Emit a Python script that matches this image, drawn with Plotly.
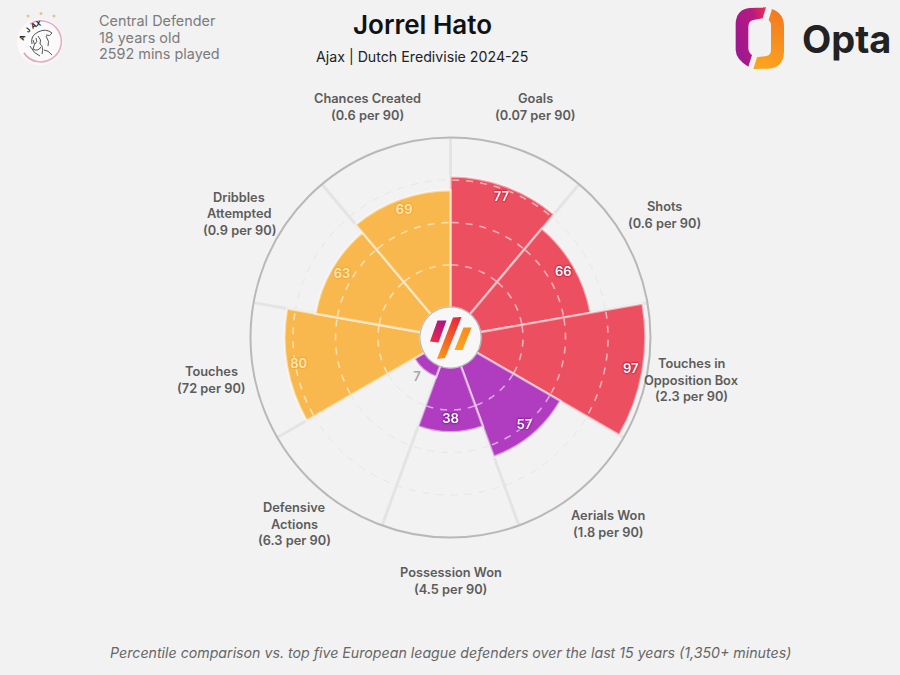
import base64
import numpy as np
import plotly.graph_objects as go

# ---- data ----
metrics = ["Goals", "Shots", "Touches in Opposition Box", "Aerials Won", "Possession Won",
           "Defensive Actions", "Touches", "Dribbles Attempted", "Chances Created"]
percentiles = [77, 66, 97, 57, 38, 7, 80, 63, 69]
per_90 = ["0.07", "0.6", "2.3", "1.8", "4.5", "6.3", "72", "0.9", "0.6"]
groups = ["attack", "attack", "attack", "poss", "poss", "poss", "ball", "ball", "ball"]
rings = [25, 50, 75]

# ---- style ----
W, H = 900, 675
BG = "#f2f2f2"
FONT = "Inter"
GROUP_COL = {"attack": "#ec5060", "poss": "#b03cc0", "ball": "#f8b84e"}
TEXT_COL = {"attack": "#ffffff", "poss": "#ffffff", "ball": "#ffe9b8"}
SHADOW_COL = {"attack": "#b0002a", "poss": "#6a008a", "ball": "#f09a20"}
CX, CY, R = 450.5, 337.5, 200
WIDTH = 360 / len(metrics)
thetas = [WIDTH * (i + 0.5) for i in range(len(metrics))]

# label block centres in px and line-break layout
label_lines = {
    "Touches in Opposition Box": ["Touches in", "Opposition Box"],
    "Dribbles Attempted": ["Dribbles", "Attempted"],
    "Defensive Actions": ["Defensive", "Actions"],
}
label_pos = [(535, 107), (664, 215), (691, 380), (608, 524), (451, 581),
             (294, 524), (211, 380), (239, 214), (367, 107)]
LINE_GAP = 16.5


def px(x):
    return x / W


def py(y):
    return 1 - y / H


def svg_uri(body, vb):
    s = f'<svg xmlns="http://www.w3.org/2000/svg" viewBox="0 0 {vb[0]} {vb[1]}">{body}</svg>'
    return "data:image/svg+xml;base64," + base64.b64encode(s.encode()).decode()


fig = go.Figure()

fig.add_trace(go.Barpolar(
    r=percentiles, theta=thetas, width=[WIDTH] * len(metrics),
    marker=dict(color=[GROUP_COL[g] for g in groups],
                line=dict(color="rgba(255,255,255,0.5)", width=2.4)),
    hoverinfo="skip", showlegend=False,
))

# dashed rings that show over the bars
for ring in rings:
    tt, rr = [], []
    for th, v in zip(thetas, percentiles):
        if v >= ring:
            seg = np.linspace(th - WIDTH / 2 + 0.6, th + WIDTH / 2 - 0.6, 24)
            tt += list(seg) + [None]
            rr += [ring] * 24 + [None]
    fig.add_trace(go.Scatterpolar(
        r=rr, theta=tt, mode="lines", connectgaps=False,
        line=dict(color="rgba(255,255,255,0.55)", width=1.6, dash="7px,7px"),
        hoverinfo="skip", showlegend=False,
    ))

# percentile values
for th, v, g in zip(thetas, percentiles, groups):
    small = v < 10
    fig.add_trace(go.Scatterpolar(
        r=[v + 6 if small else v - 7], theta=[th], mode="text", text=[str(v)],
        textposition="middle center",
        textfont=dict(family=FONT, size=13, weight=600,
                      color="#a8a8a8" if small else TEXT_COL[g],
                      shadow="none" if small else f"0 0 2px {SHADOW_COL[g]}, 0 0 2px {SHADOW_COL[g]}"),
        hoverinfo="skip", showlegend=False,
    ))

ann = []


def text(x, y, s, size, color, **kw):
    font = dict(family=kw.pop("family", FONT), size=size, color=color)
    for k in ("weight", "style"):
        if k in kw:
            font[k] = kw.pop(k)
    ann.append(dict(x=px(x), y=py(y), xref="paper", yref="paper", text=s, showarrow=False,
                    font=font, xanchor=kw.pop("xanchor", "center"), yanchor="middle", **kw))


for m, p, (x, y) in zip(metrics, per_90, label_pos):
    lines = label_lines.get(m, [m]) + [f"({p} per 90)"]
    top = y - LINE_GAP * (len(lines) - 1) / 2
    for i, ln in enumerate(lines):
        text(x, top + i * LINE_GAP, ln, 12.8, "#5c5c5c", weight=600)

text(422, 24, "Jorrel Hato", 26, "#111111", weight=600)
text(422, 57, "Ajax | Dutch Eredivisie 2024-25", 14.2, "#222222")
text(97, 20, "Central Defender", 14.4, "#7c7c7c", xanchor="left")
text(97, 37, "18 years old", 14.4, "#7c7c7c", xanchor="left")
text(97, 54, "2592 mins played", 14.4, "#7c7c7c", xanchor="left")
text(451, 653, "Percentile comparison vs. top five European league defenders over the last 15 years (1,350+ minutes)",
     14.2, "#666666", style="italic")
text(846, 39, "Opta", 38, "#222222", weight=700)
for (lx, ly, ch, rot) in [(22.5, 38, "A", -68), (27.5, 30.5, "J", -48), (33.5, 25.5, "A", -28), (38.5, 23.5, "X", -8)]:
    text(lx, ly, ch, 7, "#222222", weight=700, textangle=rot)

centre_svg = svg_uri(
    '<defs>'
    '<linearGradient id="a" x1="0.8" y1="0" x2="0.2" y2="1"><stop offset="0" stop-color="#a8148c"/><stop offset="1" stop-color="#ee2a44"/></linearGradient>'
    '<linearGradient id="b" x1="0.8" y1="0" x2="0.2" y2="1"><stop offset="0" stop-color="#e8283c"/><stop offset="1" stop-color="#fb9216"/></linearGradient>'
    '<linearGradient id="c" x1="0.8" y1="0" x2="0.2" y2="1"><stop offset="0" stop-color="#fb8a1a"/><stop offset="1" stop-color="#fba520"/></linearGradient>'
    '</defs>'
    '<circle cx="50.5" cy="37.5" r="30" fill="#f7f7f7"/>'
    '<polygon points="37.5,20.5 46.5,20.5 38.5,42.5 30,41.5" fill="url(#a)"/>'
    '<polygon points="53,17.5 61.5,17 45,58 37,59" fill="url(#b)"/>'
    '<polygon points="63.5,27.5 71.5,27.5 62.5,50 54.5,50" fill="url(#c)"/>',
    (100, 100))

opta_svg = svg_uri(
    '<defs>'
    '<linearGradient id="p" x1="0" y1="0.5" x2="1" y2="0"><stop offset="0" stop-color="#a0188e"/><stop offset="0.6" stop-color="#b81a80"/><stop offset="1" stop-color="#ee3048"/></linearGradient>'
    '<linearGradient id="o" x1="0.5" y1="0" x2="0.3" y2="1"><stop offset="0" stop-color="#f47a20"/><stop offset="1" stop-color="#fba51e"/></linearGradient>'
    '</defs>'
    '<path d="M198,22 L150,24 Q108,28 107,72 L107,150 Q108,178 145,200 L156,165 Q145,158 145,145 L145,80 Q146,62 160,60 L188,55 Z" fill="url(#p)"/>'
    '<path d="M216,27 Q252,40 252,80 L252,155 Q250,204 205,206 L160,207 L171,172 L200,168 Q213,165 213,150 L213,78 Q213,66 206,60 Z" fill="url(#o)"/>',
    (300, 240))

ajax_svg = svg_uri(
    '<circle cx="40" cy="42" r="23" fill="#fafafa"/>'
    '<path d="M24,53 A20.5,20.5 0 1 0 30,24" fill="none" stroke="#e6a8c0" stroke-width="1.5"/>'
    '<path d="M24,53 A20.5,20.5 0 0 0 36,61.5" fill="none" stroke="#e6a8c0" stroke-width="1.5"/>'
    '<circle cx="28" cy="16" r="1.5" fill="#e2c48c"/><circle cx="41" cy="13.5" r="1.5" fill="#e2c48c"/><circle cx="54" cy="16" r="1.5" fill="#e2c48c"/>'
    '<path d="M32,44 Q30,36 38,32 Q46,28 52,33 Q50,37 46,35 M33,40 Q36,44 33,49 Q38,52 41,47 M38,36 Q42,40 40,44 Q44,46 42,54 M36,38 Q38,42 35,44 M44,50 Q48,50 52,55 M46,36 Q50,42 48,46 M30,46 Q34,54 40,56"'
    ' fill="none" stroke="#555555" stroke-width="1"/>',
    (80, 80))


def image(src, x, y, w, h):
    return dict(source=src, xref="paper", yref="paper", x=px(x), y=py(y), sizex=w / W, sizey=h / H,
                xanchor="left", yanchor="top", sizing="stretch", layer="above")


fig.update_layout(
    width=W, height=H, margin=dict(l=0, r=0, t=0, b=0),
    paper_bgcolor=BG, plot_bgcolor=BG, showlegend=False,
    font=dict(family=FONT),
    polar=dict(
        bgcolor=BG,
        hole=0.15,
        domain=dict(x=[px(CX - R), px(CX + R)], y=[py(CY + R), py(CY - R)]),
        radialaxis=dict(range=[0, 100], tickvals=rings, showticklabels=False, ticks="",
                        showline=False, gridcolor="#e6e6e6", griddash="7px,7px", gridwidth=1.4),
        angularaxis=dict(rotation=90, direction="clockwise", tickvals=[WIDTH * i for i in range(len(metrics))],
                         showticklabels=False, ticks="", showline=True, linecolor="#b8b8b8", linewidth=2,
                         gridcolor="#e4e4e4", gridwidth=3),
    ),
    annotations=ann,
    images=[image(centre_svg, 400, 300, 100, 100), image(opta_svg, 700, 0, 100, 80), image(ajax_svg, 0, 0, 80, 80)],
)

fig.write_html("out.html", config={"displayModeBar": False},
               post_script="document.body.style.margin='0';document.body.style.background='#f2f2f2';")
